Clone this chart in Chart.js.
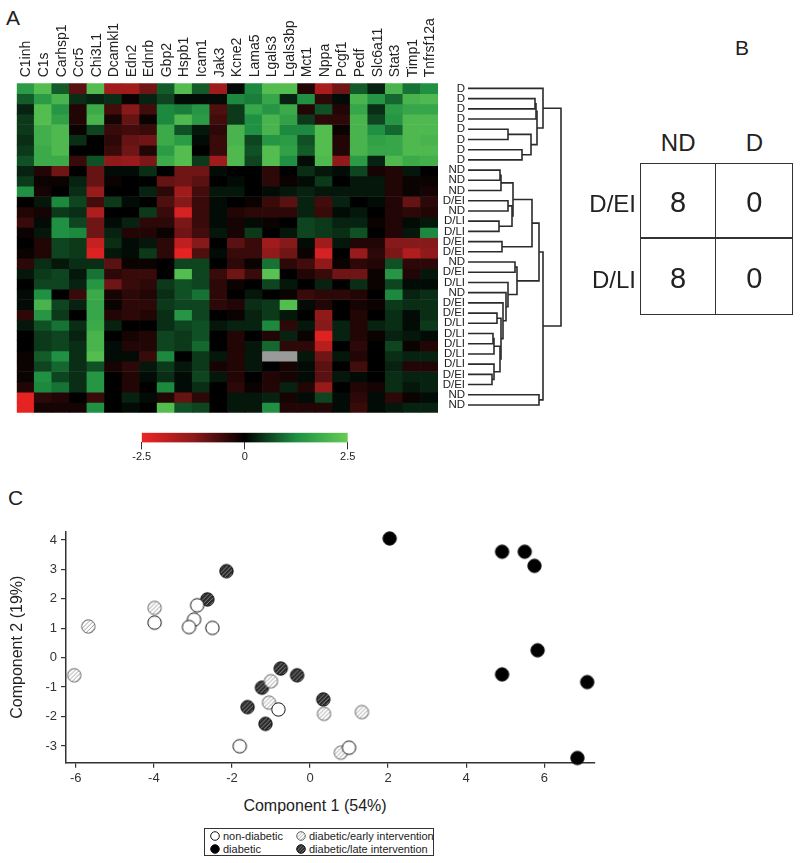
<!DOCTYPE html>
<html>
<head>
<meta charset="utf-8">
<script src="https://cdn.jsdelivr.net/npm/chart.js@4.4.0/dist/chart.umd.min.js"></script>
<style>
  body { margin: 0; background: #fff; font-family: "Liberation Sans", Arial, sans-serif; color: #222; }
  #page { position: relative; width: 800px; height: 863px; overflow: hidden; }
  .abs { position: absolute; }
  canvas { display: block; }
  .panel { font-size: 21px; line-height: 21px; }
  .cell { position: absolute; border: 1.5px solid #333; box-sizing: border-box; }
  .big { font-size: 24px; line-height: 24px; text-align: center; }
  .num { font-size: 29px; line-height: 29px; text-align: center; width: 76px; }
  #legend { left: 204px; top: 828px; width: 230px; height: 28px; border: 1px solid #333; box-sizing: border-box; font-size: 11px; }
  .li { position: absolute; height: 13px; line-height: 13px; white-space: nowrap; }
  .li canvas { display: inline-block; vertical-align: middle; margin-right: 2px; position: relative; top: -1px; }
</style>
</head>
<body>
<div id="page">
  <div class="abs panel" style="left:6px;top:7px">A</div>
  <div class="abs panel" style="left:735px;top:37px">B</div>
  <div class="abs panel" style="left:8px;top:487px">C</div>

  <div class="abs" style="left:0;top:0"><canvas id="heat" width="445" height="420"></canvas></div>
  <div class="abs" style="left:420px;top:0"><canvas id="dendro" width="160" height="420"></canvas></div>
  <div class="abs" style="left:130px;top:425px"><canvas id="cbar" width="230" height="45"></canvas></div>

  <div id="table"></div>

  <div class="abs" style="left:0;top:480px"><canvas id="pca" width="620" height="310"></canvas></div>
  <div class="abs" style="left:215px;top:797px;width:200px;text-align:center;font-size:16px;line-height:18px">Component 1 (54%)</div>
  <div id="legend" class="abs"></div>
</div>

<script>
// ---- panel A: heatmap ----
const genes = ["C1inh", "C1s", "Carhsp1", "Ccr5", "Chi3L1", "Dcamkl1", "Edn2", "Ednrb", "Gbp2", "Hspb1", "Icam1", "Jak3",
  "Kcne2", "Lama5", "Lgals3", "Lgals3bp", "Mct1", "Nppa", "Pcgf1", "Pedf", "Slc6a11", "Stat3", "Timp1", "Tnfrsf12a"];

const rowLabels = ["D", "D", "D", "D", "D", "D", "D", "D",
  "ND", "ND", "ND", "D/EI", "ND", "D/LI", "D/LI", "D/EI", "D/EI", "ND", "D/EI", "D/LI", "ND", "D/EI", "D/EI",
  "D/LI", "D/LI", "D/LI", "D/LI", "D/LI", "D/EI", "D/EI", "ND", "ND"];

// one row per sample, one value per gene (z-score); null = missing
const heat = [
  [1.5, 2.2, 0.8, -0.8, 2.2, -1.5, -1.5, -1.0, 0.8, 2.2, 0.8, -1.5, 0.1, 1.2, 2.2, 2.2, -0.3, -1.6, -1.0, 0.8, 0.3, 2.0, 1.0, 1.3],
  [0.8, 1.5, 2.0, 0.4, 0.3, 0.4, -0.1, 0.3, 0.6, 0.1, 0.1, 0.1, 1.2, 1.1, 1.7, 0.3, 1.3, -0.4, 0.1, 2.0, 1.4, 0.9, 2.0, 2.1],
  [0.3, 2.2, 1.4, -0.3, 1.8, -0.6, -1.2, -0.6, 1.2, 1.1, 1.4, -0.7, 0.5, 1.7, 1.4, 1.8, -0.3, 0.7, -0.3, 1.7, 0.4, 1.5, 1.7, 1.7],
  [0.5, 2.2, 1.6, -0.3, 2.0, -0.2, -0.9, -0.1, 1.2, 2.1, 1.5, -0.6, 0.5, 1.3, 2.0, 1.6, 0.5, -0.4, -0.4, 2.0, 0.6, 1.4, 2.1, 2.1],
  [0.5, 1.9, 2.1, -0.1, 0.6, -0.5, -0.6, -0.5, 1.8, 0.7, 0.2, -0.4, 2.0, 1.3, 2.0, 1.2, 1.2, 2.2, -0.1, 2.0, 1.3, 0.9, 2.1, 2.1],
  [0.4, 1.9, 2.1, 0.4, 0.0, -0.4, -0.9, -1.0, 1.8, 1.5, 0.1, -0.5, 2.0, 0.6, 1.4, 1.5, 0.7, 2.2, -0.3, 2.0, 1.6, 1.7, 2.1, 2.0],
  [0.5, 1.8, 2.1, 0.0, 0.0, -0.5, -1.0, -0.3, 1.5, 2.2, 0.0, -0.5, 2.1, 0.7, 2.2, 1.6, 0.8, 2.2, -0.3, 2.0, 1.7, 1.7, 2.1, 2.1],
  [0.7, 1.8, 1.8, -0.5, 0.7, -1.3, -1.4, -1.1, 1.8, 2.2, 0.5, -1.5, 2.1, 0.6, 2.2, 1.3, 0.1, 2.1, -1.3, 1.5, 0.3, 2.1, 1.8, 1.9],
  [0.3, -0.3, -1.0, 0.0, -0.9, 0.1, 0.1, 0.4, 0.0, -1.0, -1.0, 0.1, 0.0, 0.0, -0.4, 0.0, 0.4, 0.2, 0.1, 0.6, -0.2, -0.3, 0.2, 0.0],
  [0.5, -0.1, -0.1, 0.3, -0.9, -0.1, 0.0, 0.0, -0.9, -1.0, -0.8, 0.0, 0.1, 0.0, -0.4, -0.1, 0.1, 0.5, 0.0, 0.2, 0.2, -0.3, -0.1, -0.1],
  [1.3, -0.2, 0.0, 0.4, -1.4, 0.0, 0.0, 0.3, -0.4, -1.5, -0.6, 0.2, 0.2, 0.0, 0.1, 0.2, 0.3, 0.2, 0.2, 0.2, 0.2, -0.3, -0.1, -0.2],
  [0.0, 0.2, 1.2, 0.6, -0.6, 0.5, 0.1, 0.0, -0.7, -1.2, -0.5, 0.1, 0.0, -0.1, -0.5, -0.8, 0.3, -0.6, 0.3, 0.0, 0.1, -0.3, -0.9, -0.4],
  [-0.3, -0.2, 0.5, 0.4, -1.7, 0.0, 0.0, 0.5, -0.5, -2.2, -0.5, 0.1, -0.3, -0.4, -0.4, -0.4, 0.3, -0.5, 0.1, 0.2, 0.0, -0.3, -0.4, -0.3],
  [-0.5, 0.1, 1.3, 0.6, -1.0, 0.1, 0.3, -0.4, -0.4, -1.1, -0.5, 0.1, -0.2, 0.1, -0.1, 0.0, 0.6, 0.5, 0.3, 0.3, -0.1, -0.3, 0.1, 0.2],
  [-0.1, 0.2, 1.3, 1.2, -1.0, 0.3, -0.3, -0.3, -0.1, -1.0, -0.6, 0.2, -0.2, 0.5, 0.0, 0.2, 0.6, 0.5, 0.4, 0.7, 0.0, -0.3, 0.2, 1.2],
  [0.0, -0.3, 0.6, 0.5, -2.0, 0.4, 0.1, 0.2, -0.4, -1.9, -1.2, 0.0, -0.8, -0.5, -1.5, -1.2, 0.1, -1.5, 0.2, -0.3, -0.3, -1.2, -1.2, -1.2],
  [-0.1, -0.3, 0.6, 0.5, -2.3, 0.2, 0.1, 0.5, -0.4, -2.4, -0.7, 0.1, -0.5, -0.5, -1.3, -1.0, -0.1, -2.2, 0.0, -1.4, -0.4, -1.1, -1.7, -1.3],
  [-0.4, 0.4, 0.2, 0.4, 0.4, -0.8, -0.1, -0.1, 0.0, 0.6, 0.6, 0.0, -0.4, -0.1, 1.0, -0.4, -0.6, -1.3, -0.1, -0.4, -0.3, 0.7, -0.4, -0.4],
  [0.2, 0.5, 0.6, 0.2, 1.0, -0.4, -0.5, -0.5, 0.0, 2.2, 0.6, -0.5, -1.0, -0.5, 2.3, 0.0, -0.3, -0.5, -1.0, -1.0, -0.1, 1.4, -0.3, 0.2],
  [0.0, 0.6, 0.6, 0.3, 1.4, -1.0, -0.5, -0.4, 0.5, 0.7, 0.6, -0.4, -0.1, 0.0, 0.6, 0.2, 0.0, 0.3, 0.0, 0.4, -0.1, 0.6, 0.1, 0.1],
  [0.1, 1.3, 0.0, -0.5, 1.8, -0.2, -0.4, -0.3, 0.4, 0.7, 1.0, -0.4, 0.0, 0.2, 0.0, -0.1, -0.5, -0.4, -0.4, -0.3, 0.0, 1.2, 0.3, 0.4],
  [0.1, 2.0, 0.6, 0.3, 1.7, -0.1, -0.4, -0.4, 0.5, 0.6, 0.6, -0.4, -0.3, 0.4, 0.5, 2.2, 0.1, -0.3, 0.0, -0.2, -0.1, 0.5, 0.4, 0.4],
  [-0.4, 1.4, 0.5, 0.0, 1.7, -0.3, -0.4, -0.3, 0.4, 1.4, 0.6, 0.0, -0.1, 0.3, 0.5, 0.2, 0.0, -1.3, 0.0, -0.3, 0.0, 0.4, 0.1, 0.4],
  [0.2, 0.7, 1.0, 0.4, 1.8, 0.3, 0.0, 0.0, 0.4, 0.6, 0.7, 0.2, 0.3, 0.3, 1.2, -0.4, 0.2, -1.2, 0.3, -0.3, 0.3, 0.4, 0.1, 0.5],
  [0.0, 0.5, 0.6, 0.3, 2.0, 0.0, -0.2, -0.3, 0.6, 0.5, 0.7, 0.0, -0.3, 0.0, -0.3, 0.3, -0.1, -2.3, 0.3, -0.3, -0.1, 0.3, 0.2, 0.1],
  [0.0, 0.5, 0.6, 0.4, 2.0, 0.1, -0.3, -0.3, 0.6, 0.5, 0.9, 0.0, -0.3, 0.2, 0.9, -0.4, -0.4, -1.8, 0.0, -0.4, 0.0, 0.6, -0.1, -0.3],
  [-0.1, 0.8, 1.3, 0.4, 2.2, 0.1, 0.1, -0.5, 1.2, 0.0, 0.5, 0.2, -0.3, 0.2, null, null, 0.2, -1.0, 0.2, -0.3, 0.0, 0.4, 0.3, 0.3],
  [-0.1, 0.6, 0.9, 0.4, 0.7, -0.2, -0.4, 0.2, 0.5, 0.2, 0.5, -0.2, -0.3, 0.2, 0.0, -0.2, 0.1, -0.8, 0.0, -0.6, 0.0, 0.3, -0.3, -0.3],
  [-0.1, 1.3, 0.6, 0.4, 1.4, 0.0, -0.3, 0.1, 0.4, 0.1, 0.6, 0.2, -0.3, 0.0, -0.3, -0.2, 0.1, -0.8, 0.2, 0.1, 0.0, 0.4, 0.3, 0.3],
  [-0.3, 1.2, 1.0, 0.4, 1.4, 0.0, -0.3, 0.0, 1.2, 0.1, 0.4, 0.0, -0.4, -0.1, -0.3, 0.3, -0.3, -1.4, 0.0, -0.3, -0.2, 0.4, 0.2, 0.3],
  [-2.4, -0.4, -0.3, 0.0, -0.5, 0.0, 0.3, 0.1, -0.3, -0.9, -0.4, 0.0, 0.2, 0.2, 0.3, -0.2, 0.1, 0.6, 0.1, -0.4, 0.1, -0.4, -0.1, 0.1],
  [-2.4, -0.2, -0.2, -0.2, 1.3, 0.0, 0.1, 0.0, 2.2, 0.7, 0.6, 0.0, 0.2, 0.2, 1.3, -0.3, -0.3, -0.3, 0.1, -0.5, 0.1, 0.2, 0.3, 0.3]
];

// row dendrogram: [child a, child b, height]; ids 0-31 are rows, 32+ are earlier merges
const merges = [
  [4, 5, 0.40], [6, 7, 0.54], [32, 33, 0.63], [1, 2, 0.67], [35, 3, 0.68], [36, 34, 0.69], [0, 37, 0.75],
  [8, 9, 0.32], [39, 10, 0.33], [11, 12, 0.40], [13, 14, 0.31], [41, 42, 0.44], [40, 43, 0.45],
  [15, 16, 0.34], [44, 45, 0.64],
  [28, 29, 0.24], [27, 47, 0.26], [24, 25, 0.25], [49, 26, 0.26], [50, 48, 0.32], [22, 23, 0.29],
  [52, 51, 0.33], [21, 53, 0.35], [20, 54, 0.38], [19, 55, 0.40], [17, 18, 0.47], [57, 56, 0.49],
  [46, 58, 0.71], [30, 31, 0.71], [59, 60, 0.75], [38, 61, 0.93]
];

const colorTicks = [-2.5, 0, 2.5];

// ---- panel B ----
const tableCols = ["ND", "D"];
const tableRows = ["D/EI", "D/LI"];
const tableCounts = [[8, 0], [8, 0]];

// ---- panel C: PCA scores [component 1, component 2] ----
const nonDiabetic = [[-2.89, 1.78], [-2.97, 1.29], [-3.10, 1.04], [-2.50, 1.01], [-3.98, 1.19], [-0.81, -1.76], [-1.80, -3.01], [1.00, -3.06]];
const diabetic = [[2.04, 4.05], [4.92, 3.60], [5.50, 3.60], [5.75, 3.12], [5.83, 0.25], [4.92, -0.57], [7.10, -0.83], [6.85, -3.41]];
const earlyIntervention = [[-3.98, 1.69], [-5.68, 1.06], [-6.04, -0.60], [-1.00, -0.80], [-1.05, -1.53], [0.36, -1.91], [1.33, -1.85], [0.79, -3.23]];
const lateIntervention = [[-2.14, 2.94], [-2.63, 1.98], [-0.75, -0.37], [-0.33, -0.60], [-1.23, -1.02], [-1.60, -1.68], [-1.14, -2.25], [0.34, -1.42]];
const pcaXTicks = [-6, -4, -2, 0, 2, 4, 6];
const pcaYTicks = [-3, -2, -1, 0, 1, 2, 3, 4];

const FONT = "Liberation Sans";
const colorStops = [[-2.5, [238, 36, 36]], [-1.25, [140, 26, 26]], [0, [0, 0, 0]], [1.25, [29, 143, 66]], [2.5, [102, 204, 85]]];

function heatColor(v) {
  if (v === null) return "#9a9a9a";
  v = Math.max(-2.5, Math.min(2.5, v));
  for (let i = 0; i < colorStops.length - 1; i++) {
    const [a, ca] = colorStops[i], [b, cb] = colorStops[i + 1];
    if (v >= a && v <= b) {
      const t = (v - a) / (b - a);
      const c = ca.map((x, k) => Math.round(x + (cb[k] - x) * t));
      return "rgb(" + c.join(",") + ")";
    }
  }
  return "#000";
}

// gene names, written upward above each column
const columnLabels = {
  id: "columnLabels",
  afterDraw(chart) {
    const { ctx, chartArea, scales: { x } } = chart;
    ctx.save();
    ctx.font = "14px '" + FONT + "'";
    ctx.fillStyle = "#222";
    ctx.textAlign = "left";
    ctx.textBaseline = "alphabetic";
    genes.forEach((g, i) => {
      ctx.save();
      ctx.translate(x.getPixelForValue(i) + 5, chartArea.top - 6);
      ctx.rotate(-Math.PI / 2);
      ctx.fillText(g, 0, 0);
      ctx.restore();
    });
    ctx.restore();
  },
};

new Chart(document.getElementById("heat"), {
  type: "bar",
  data: {
    labels: genes,
    datasets: heat.map((row, r) => ({
      label: rowLabels[r],
      data: row.map(() => 1),
      backgroundColor: row.map(heatColor),
      borderWidth: 0,
      barPercentage: 1,
      categoryPercentage: 1,
    })),
  },
  options: {
    responsive: false,
    animation: false,
    layout: { padding: { left: 16.7, right: 7, top: 0, bottom: 7.3 } },
    plugins: { legend: { display: false }, tooltip: { enabled: false } },
    scales: {
      x: {
        position: "top",
        stacked: true,
        grid: { display: false, drawTicks: false },
        border: { display: false },
        ticks: { display: false },
        afterFit(s) { s.height = 83.3; },
      },
      y: { display: false, stacked: true, reverse: true, min: 0, max: rowLabels.length },
    },
  },
  plugins: [columnLabels],
});

// dendrogram
const nodeY = [], nodeH = [];
rowLabels.forEach((_, i) => { nodeY[i] = i + 0.5; nodeH[i] = 0; });
merges.forEach(([a, b, h], k) => { nodeY[32 + k] = (nodeY[a] + nodeY[b]) / 2; nodeH[32 + k] = h; });

new Chart(document.getElementById("dendro"), {
  type: "scatter",
  data: {
    datasets: merges.map(([a, b, h]) => ({
      data: [{ x: nodeH[a], y: nodeY[a] }, { x: h, y: nodeY[a] }, { x: h, y: nodeY[b] }, { x: nodeH[b], y: nodeY[b] }],
      showLine: true,
      borderColor: "#2b2b2b",
      borderWidth: 1.6,
      pointRadius: 0,
      clip: false,
    })),
  },
  options: {
    responsive: false,
    animation: false,
    layout: { padding: { left: 0, right: 12, top: 83.3, bottom: 7.3 } },
    plugins: { legend: { display: false }, tooltip: { enabled: false } },
    scales: {
      x: { display: false, min: 0, max: 1 },
      y: {
        reverse: true, min: 0, max: rowLabels.length,
        grid: { display: false, drawTicks: false },
        border: { display: false },
        afterBuildTicks(s) { s.ticks = rowLabels.map((_, i) => ({ value: i + 0.5 })); },
        afterFit(s) { s.width = 48; },
        ticks: { autoSkip: false, padding: 3, color: "#222", font: { family: FONT, size: 11.5 }, callback: (v, i) => rowLabels[i] },
      },
    },
  },
});

// colour key
new Chart(document.getElementById("cbar"), {
  type: "bar",
  data: {
    labels: [""],
    datasets: [{
      data: [[colorTicks[0], colorTicks[colorTicks.length - 1]]],
      barPercentage: 1,
      categoryPercentage: 1,
      borderWidth: 0,
      backgroundColor(ctx) {
        const area = ctx.chart.chartArea;
        if (!area) return "#000";
        const g = ctx.chart.ctx.createLinearGradient(area.left, 0, area.right, 0);
        colorStops.forEach(([v, c]) => g.addColorStop((v + 2.5) / 5, "rgb(" + c.join(",") + ")"));
        return g;
      },
    }],
  },
  options: {
    indexAxis: "y",
    responsive: false,
    animation: false,
    layout: { padding: { left: 11.7, right: 12.3, top: 7.7, bottom: 0 } },
    plugins: { legend: { display: false }, tooltip: { enabled: false } },
    scales: {
      x: {
        type: "linear", min: -2.5, max: 2.5,
        afterBuildTicks(s) { s.ticks = colorTicks.map(v => ({ value: v })); },
        afterFit(s) { s.height = 27.6; },
        grid: { drawOnChartArea: false, tickLength: 7, color: "#333", lineWidth: 1 },
        border: { display: false },
        ticks: { padding: 1, color: "#222", font: { family: FONT, size: 11 }, callback: v => String(v) },
      },
      y: { display: false },
    },
  },
});

// table B
(function () {
  const t = document.getElementById("table");
  const left = 640, top = 162.7, w = 76.3, h = 76.2;
  let html = "";
  tableCols.forEach((c, j) => {
    html += '<div class="abs big" style="left:' + (left + j * w) + 'px;top:131px;width:' + w + 'px">' + c + "</div>";
  });
  tableRows.forEach((r, i) => {
    html += '<div class="abs big" style="left:' + (left - 104) + 'px;top:' + (top + i * h + 29.5) + 'px;width:100px;text-align:right">' + r + "</div>";
    tableCounts[i].forEach((n, j) => {
      html += '<div class="cell" style="left:' + (left + j * w - (j ? 1.5 : 0)) + 'px;top:' + (top + i * h - (i ? 1.5 : 0)) + 'px;width:' + (w + (j ? 1.5 : 0)) + 'px;height:' + (h + (i ? 1.5 : 0)) + 'px"></div>';
      html += '<div class="abs num" style="left:' + (left + j * w) + 'px;top:' + (top + i * h + 25) + 'px">' + n + "</div>";
    });
  });
  t.innerHTML = html;
})();

// markers for panel C
function makeMarker(kind, r) {
  const s = Math.ceil(r * 2 + 3);
  const c = document.createElement("canvas");
  c.width = c.height = s;
  const g = c.getContext("2d");
  const m = s / 2;
  const fill = { open: "#fff", filled: "#000", early: "#fff", late: "#2a2a2a" }[kind];
  g.beginPath(); g.arc(m, m, r, 0, Math.PI * 2);
  g.fillStyle = fill; g.fill();
  if (kind === "early" || kind === "late") {
    g.save(); g.clip();
    g.strokeStyle = kind === "early" ? "#a0a0a0" : "#8c8c8c";
    g.lineWidth = r > 5 ? 1 : 0.8;
    const step = r > 5 ? 4.2 : 3.2;
    for (let k = -s; k < 2 * s; k += step) { g.beginPath(); g.moveTo(k, s); g.lineTo(k + s, 0); g.stroke(); }
    g.restore();
  }
  g.beginPath(); g.arc(m, m, r, 0, Math.PI * 2);
  g.strokeStyle = kind === "early" ? "#666" : "#111"; g.lineWidth = 1; g.stroke();
  return c;
}

const groups = [
  { label: "non-diabetic", pts: nonDiabetic, kind: "open" },
  { label: "diabetic/early intervention", pts: earlyIntervention, kind: "early" },
  { label: "diabetic", pts: diabetic, kind: "filled" },
  { label: "diabetic/late intervention", pts: lateIntervention, kind: "late" },
];

new Chart(document.getElementById("pca"), {
  type: "scatter",
  data: {
    datasets: groups.map(gp => ({
      label: gp.label,
      data: gp.pts.map(([x, y]) => ({ x, y })),
      pointStyle: makeMarker(gp.kind, 6.7),
      clip: false,
    })),
  },
  options: {
    responsive: false,
    animation: false,
    layout: { padding: { left: 0, right: 25, top: 51.7, bottom: 0 } },
    plugins: { legend: { display: false }, tooltip: { enabled: false } },
    scales: {
      x: {
        type: "linear", min: -6.25, max: 7.3,
        afterBuildTicks(s) { s.ticks = pcaXTicks.map(v => ({ value: v })); },
        afterFit(s) { s.height = 27.3; },
        grid: { drawOnChartArea: false, tickLength: 5, color: "#333", lineWidth: 1.2 },
        border: { color: "#333", width: 1.5 },
        ticks: { padding: 3, color: "#333", font: { family: FONT, size: 13 } },
      },
      y: {
        type: "linear", min: -3.57, max: 4.28,
        afterBuildTicks(s) { s.ticks = pcaYTicks.map(v => ({ value: v })); },
        afterFit(s) { s.width = 66; },
        grid: { drawOnChartArea: false, tickLength: 5, color: "#333", lineWidth: 1.2 },
        border: { color: "#333", width: 1.5 },
        ticks: { padding: 4, color: "#333", font: { family: FONT, size: 13 } },
        title: { display: true, text: "Component 2 (19%)", color: "#222", padding: { top: 8.4, bottom: 0 }, font: { family: FONT, size: 16 } },
      },
    },
  },
});

// legend for panel C
(function () {
  const lg = document.getElementById("legend");
  const pos = [[4, 1], [90, 1], [4, 14], [90, 14]];
  groups.forEach((gp, i) => {
    const d = document.createElement("div");
    d.className = "li";
    d.style.left = pos[i][0] + "px";
    d.style.top = pos[i][1] + "px";
    d.appendChild(makeMarker(gp.kind, 4.3));
    d.appendChild(document.createTextNode(gp.label));
    lg.appendChild(d);
  });
})();
</script>
</body>
</html>
